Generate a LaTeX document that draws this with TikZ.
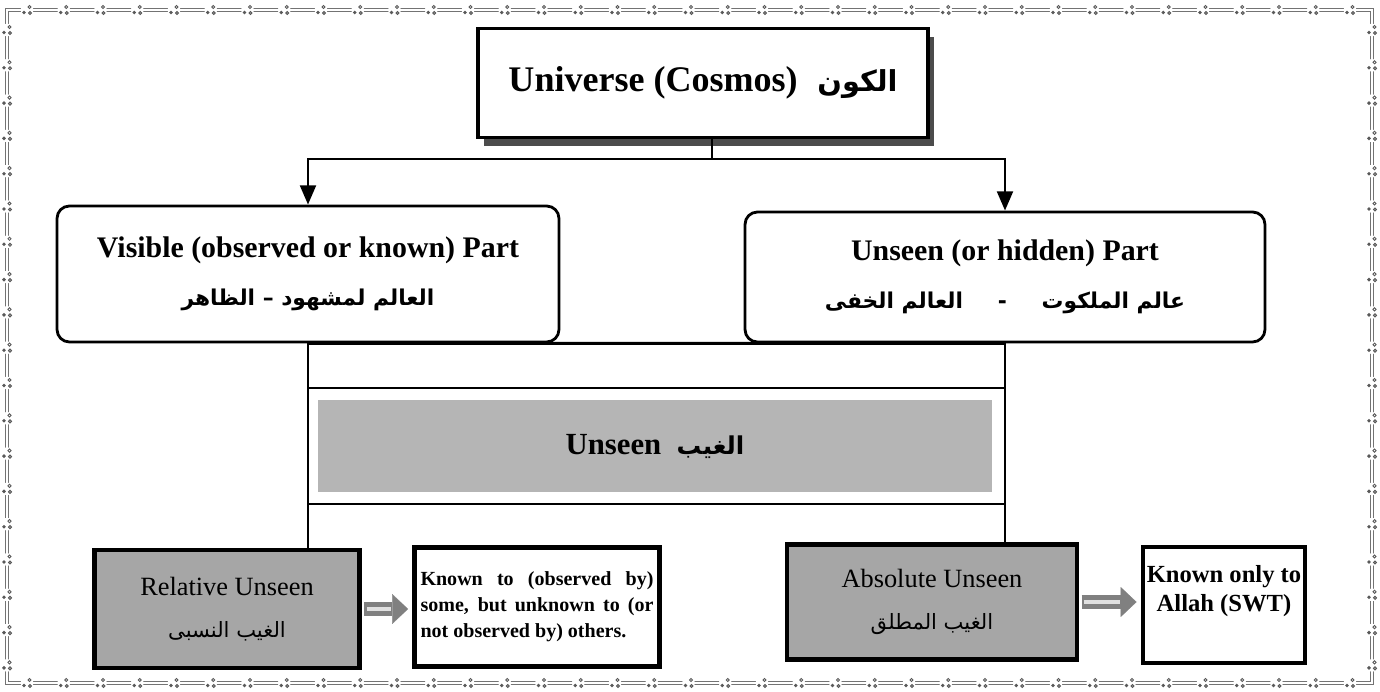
\documentclass[tikz,border=0pt]{standalone}
\usepackage{fontspec}
\setmainfont{Liberation Serif}
\newfontfamily\arabicfont[Script=Arabic,Scale=0.8]{DejaVu Sans}
\TeXXeTstate=1
\usepackage{tikz}
\usetikzlibrary{arrows,arrows.meta,shadows}
\newcommand{\artxt}[1]{{\arabicfont\beginR#1\endR}}

\begin{document}
\begin{tikzpicture}[x=0.02cm, y=-0.02cm,
    conn/.style={line width=1.6pt, >={Triangle[width=9pt,length=11pt]}},
    topbox/.style={draw, line width=1.8pt, fill=white, minimum width=9cm,
                   minimum height=2.18cm, font=\bfseries\fontsize{20.5}{24}\selectfont,
                   drop shadow={shadow xshift=3.5pt, shadow yshift=-5pt,
                                fill=black!70, opacity=1}},
    part/.style={draw, rounded corners=7pt, line width=1.6pt, fill=white,
                 align=center, font=\bfseries\fontsize{17}{27}\selectfont},
    band/.style={fill=black!29, minimum width=13.5cm, minimum height=1.86cm,
                 font=\bfseries\fontsize{17.5}{20}\selectfont},
    greybox/.style={draw, line width=2.4pt, fill=black!35, align=center,
                    font=\fontsize{15}{24}\selectfont},
    notebox/.style={draw, line width=2.4pt, fill=white},
    blk/.style={line width=8.5pt, black!50,
                -{Triangle[width=17pt,length=9pt,line width=0.1pt]},
                shorten <=1.5pt, shorten >=2.5pt},
    blkline/.style={line width=1.8pt, black!12, shorten <=3pt, shorten >=12pt},
    clust/.pic={\fill[white] (0,0) circle (3.6pt);
                \fill[black!65] (-3,2.5) circle (1.1pt);
                \draw[black!65, line width=0.5pt] (2.5,-3) circle (0.9pt);
                \draw[black!65, line width=0.5pt, fill=black!35] (3,3) circle (0.9pt);}]

	% page and frame
	\useasboundingbox (0,0) rectangle (1380,692);
	\fill[white] (0,0) rectangle (1380,692);
	\draw[black!55, line width=0.45pt, double=white, double distance=1.5pt]
		(7,10) rectangle (1372,683);
	\foreach \i in {0,...,36} {
		\pic at ({27+\i*36.75},10) {clust};
		\pic at ({27+\i*36.75},683) {clust};
	}
	\foreach \i in {0,...,18} {
		\pic at (7,{30+\i*35.3}) {clust};
		\pic at (1372,{30+\i*35.3}) {clust};
	}

	% boxes
	\node[topbox] (cosmos) at (703,83) {Universe (Cosmos)\hspace{0.55em}\artxt{الكون}};
	\node[part, minimum width=10.04cm, minimum height=2.72cm] (vis) at (308,274)
		{Visible (observed or known) Part\\
		 {\fontsize{15.5}{27}\selectfont\artxt{العالم لمشهود – الظاهر}}};
	\node[part, minimum width=10.4cm, minimum height=2.6cm] (hid) at (1005,277)
		{Unseen (or hidden) Part\\
		 {\fontsize{15.5}{27}\selectfont\artxt{عالم الملكوت\hspace{1.6em}-\hspace{1.6em}العالم الخفى}}};
	\node[band] (band) at (655,446) {Unseen\hspace{0.5em}\artxt{الغيب}};
	\node[greybox, minimum width=5.3cm, minimum height=2.36cm] (rel) at (227,609)
		{Relative Unseen\\\artxt{الغيب النسبى}};
	\node[notebox, minimum width=4.9cm, minimum height=2.38cm, inner sep=0.12cm,
		  text width=4.66cm, align=justify,
		  font=\bfseries\fontsize{11.4}{14.8}\selectfont] (relnote) at (537,607)
		{Known to (observed by)\linebreak some, but unknown to (or\linebreak
		 not observed by) others.};
	\node[greybox, minimum width=5.8cm, minimum height=2.3cm] (abs) at (932,602)
		{Absolute Unseen\\\artxt{الغيب المطلق}};
	\node[notebox, inner sep=0.06cm, font=\bfseries\fontsize{14}{16.2}\selectfont]
		(allah) at (1224,605)
		{\parbox[c][2.2cm][t]{3.12cm}{\centering\vspace{9pt}Known only to\\Allah (SWT)}};

	% connectors
	\coordinate (split) at (712,159);
	\coordinate (bandtop) at (655,388);
	\coordinate (bandbot) at (655,504);
	\draw[conn] (cosmos.south -| split) -- (split);
	\draw[conn,->] (split) -| (vis.north);
	\draw[conn,->] (split) -| (hid.north);
	\draw[conn] (vis.south) -- (hid.south);
	\draw[conn] (vis.south |- bandtop) -- (hid.south |- bandtop);
	\draw[conn] (vis.south |- bandbot) -- (hid.south |- bandbot);
	\draw[conn] (vis.south) -- (vis.south |- rel.north);
	\draw[conn] (hid.south) -- (hid.south |- abs.north);

	% block arrows
	\draw[blk] (rel.east) -- (rel.east -| relnote.west);
	\draw[blkline] (rel.east) -- (rel.east -| relnote.west);
	\draw[blk] (abs.east) -- (abs.east -| allah.west);
	\draw[blkline] (abs.east) -- (abs.east -| allah.west);

\end{tikzpicture}
\end{document}
